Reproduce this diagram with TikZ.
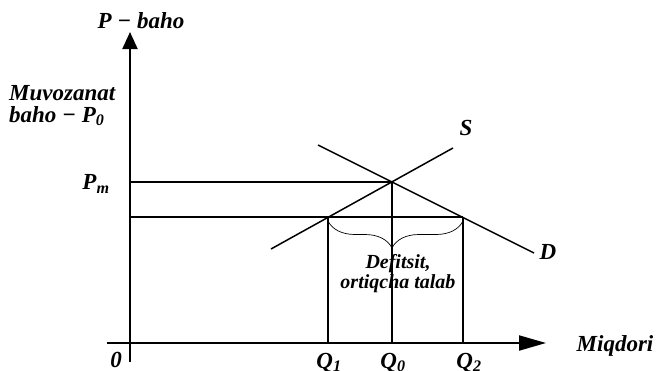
\documentclass[tikz,border=0pt]{standalone}
\usepackage{fontspec}
\setmainfont{Liberation Serif}
\usetikzlibrary{arrows.meta,decorations.pathreplacing}
\begin{document}
\begin{tikzpicture}[x=1pt,y=-1pt,
  axis/.style={line width=2pt},
  curve/.style={line width=1.5pt},
  guide/.style={line width=1.5pt},
  lbl/.style={font=\fontsize{23}{22}\selectfont\bfseries\itshape, inner sep=0pt},
  note/.style={font=\fontsize{20}{19.5}\selectfont\bfseries\itshape, inner sep=0pt, align=center}]
\useasboundingbox (0,0) rectangle (659,370);
% axes
\coordinate (Ybot) at (130,362);
\coordinate (Ytop) at (130,32);
\coordinate (Xl) at (107,343);
\coordinate (Xr) at (546,343);
\draw[axis,-{Triangle[length=17pt,width=15pt]}] (Ybot) -- (Ytop);
\draw[axis,-{Triangle[length=27pt,width=15pt]}] (Xl) -- (Xr);
% key points
\coordinate (E) at (392,182);
\coordinate (A) at (328,217);
\coordinate (B) at (463,217);
\coordinate (Pm) at (130,182);
\coordinate (Pl) at (130,217);
\coordinate (Q1) at (328,343);
\coordinate (Q0) at (392,343);
\coordinate (Q2) at (463,343);
% supply and demand
\coordinate (S0) at (271,249);
\coordinate (S1) at (453,148);
\coordinate (D0) at (318,145);
\coordinate (D1) at (534,253);
\draw[curve] (S0) -- (S1);
\draw[curve] (D0) -- (D1);
% guide lines
\draw[guide] (Pm) -- (E);
\draw[guide] (Pl) -- (B);
\draw[guide] (A) -- (Q1);
\draw[guide] (E) -- (Q0);
\draw[guide] (B) -- (Q2);
% brace
\coordinate (Br0) at (328,221);
\coordinate (Br1) at (463,221);
\draw[line width=0.7pt, decorate, decoration={brace, mirror, amplitude=27pt, aspect=0.474}] (Br0) -- (Br1);
% labels
\node[lbl, anchor=base] (pbaho) at (141,28) {P − baho};
\node[lbl, align=left, anchor=base west] (muv) at (9,122) {Muvozanat\\baho − P\textsubscript{0}};
\node[lbl] (pm) at (96,184) {P\textsubscript{m}};
\node[lbl] (s) at (466,128) {S};
\node[lbl] (d) at (548,252) {D};
\node[note, anchor=base] (def) at (398,288) {Defitsit,\\ortiqcha talab};
\node[lbl, anchor=base] (miq) at (615,351) {Miqdori};
\node[lbl, anchor=base] (zero) at (116,367) {0};
\node[lbl, anchor=base] (q1) at (329,368) {Q\textsubscript{1}};
\node[lbl, anchor=base] (q0) at (393,368) {Q\textsubscript{0}};
\node[lbl, anchor=base] (q2) at (469,368) {Q\textsubscript{2}};
\end{tikzpicture}
\end{document}
